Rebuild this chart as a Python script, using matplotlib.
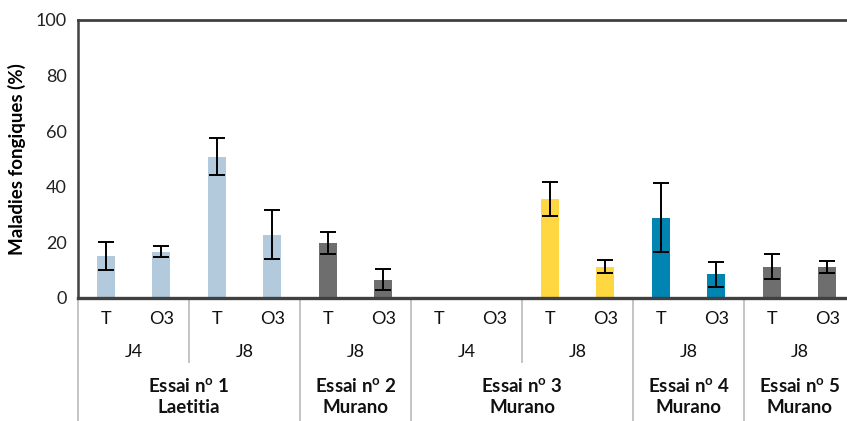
import matplotlib
matplotlib.use("Agg")
import matplotlib.pyplot as plt
from matplotlib.transforms import blended_transform_factory
from matplotlib.lines import Line2D

plt.rcParams['font.family'] = ['Lato', 'DejaVu Sans']
plt.rcParams['mathtext.fontset'] = 'custom'
plt.rcParams['mathtext.rm'] = 'Lato'
plt.rcParams['mathtext.bf'] = 'Lato:bold'

# ---- data ----
treatments = ["T", "O3", "T", "O3", "T", "O3", "T", "O3", "T", "O3", "T", "O3", "T", "O3"]
days = ["J4", "J8", "J8", "J4", "J8", "J8", "J8"]          # one per pair of bars
essais = ["Essai n$^{\\mathregular{o}}$ 1\nLaetitia",
          "Essai n$^{\\mathregular{o}}$ 2\nMurano",
          "Essai n$^{\\mathregular{o}}$ 3\nMurano",
          "Essai n$^{\\mathregular{o}}$ 4\nMurano",
          "Essai n$^{\\mathregular{o}}$ 5\nMurano"]
pairs_per_essai = [2, 1, 2, 1, 1]
values = [15.0, 16.7, 50.8, 22.7, 19.7, 6.5, 0.0, 0.0, 35.6, 11.3, 28.9, 8.6, 11.2, 11.2]
errors = [5.0, 2.0, 6.6, 8.8, 4.0, 3.8, 0.0, 0.0, 6.0, 2.3, 12.4, 4.5, 4.5, 2.2]

# ---- style ----
bar_colors = ["#B3CADD"] * 4 + ["#6E6E6E"] * 2 + ["#FFD740"] * 4 + ["#0085B2"] * 2 + ["#6E6E6E"] * 2

W, H = 847, 421
fig = plt.figure(figsize=(W / 100, H / 100), dpi=100)
ax_left, ax_right, ax_top, ax_bot = 78, 855, 20, 298
ax = fig.add_axes([ax_left / W, 1 - ax_bot / H, (ax_right - ax_left) / W, (ax_bot - ax_top) / H])

x = list(range(len(values)))
ax.bar(x, values, width=0.33, color=bar_colors, zorder=2)
ax.errorbar(x, values, yerr=errors, fmt='none', ecolor='black', elinewidth=1.4,
            capsize=6, capthick=1.4, zorder=3)

ax.set_xlim(-0.5, len(values) - 0.5)
ax.set_ylim(0, 100)
ax.set_yticks([0, 20, 40, 60, 80, 100])
ax.tick_params(axis='y', length=0, pad=8, labelsize=13, colors='#222222')
ax.set_xticks([])
ax.set_ylabel("Maladies fongiques (%)", fontsize=13.5, fontweight='bold', labelpad=7)

for s in ['top', 'left', 'bottom']:
    ax.spines[s].set_color('#404040')
ax.spines['top'].set_linewidth(2)
ax.spines['left'].set_linewidth(1.8)
ax.spines['bottom'].set_linewidth(2.4)
ax.spines['bottom'].set_zorder(4)
ax.spines['right'].set_visible(False)

trans = blended_transform_factory(ax.transData, ax.transAxes)
axh = ax_bot - ax_top

def ay(py):
    return -(py - ax_bot) / axh

# treatment labels
for xi, t in zip(x, treatments):
    ax.text(xi, ay(319), t, transform=trans, ha='center', va='center', fontsize=13, color='#111111')

# day labels
for i, d in enumerate(days):
    ax.text(2 * i + 0.5, ay(352), d, transform=trans, ha='center', va='center', fontsize=13, color='#111111')

# essai labels and separators
sep_color = '#BFBFBF'
start = 0
boundaries_group = [-0.5]
boundaries_day = []
for n in pairs_per_essai:
    for k in range(1, n):
        boundaries_day.append(start + 2 * k - 0.5)
    start += 2 * n
    boundaries_group.append(start - 0.5)

start = 0
for lab, n in zip(essais, pairs_per_essai):
    center = start + n - 0.5
    ax.text(center, ay(397), lab, transform=trans, ha='center', va='center', fontsize=13.5,
            fontweight='bold', color='#111111', linespacing=1.2)
    start += 2 * n

for b in boundaries_group:
    ax.add_line(Line2D([b, b], [0, ay(421)], transform=trans, color=sep_color, lw=1.3, clip_on=False))
for b in boundaries_day:
    ax.add_line(Line2D([b, b], [0, ay(362)], transform=trans, color=sep_color, lw=1.3, clip_on=False))

fig.savefig("out.png", dpi=100)
